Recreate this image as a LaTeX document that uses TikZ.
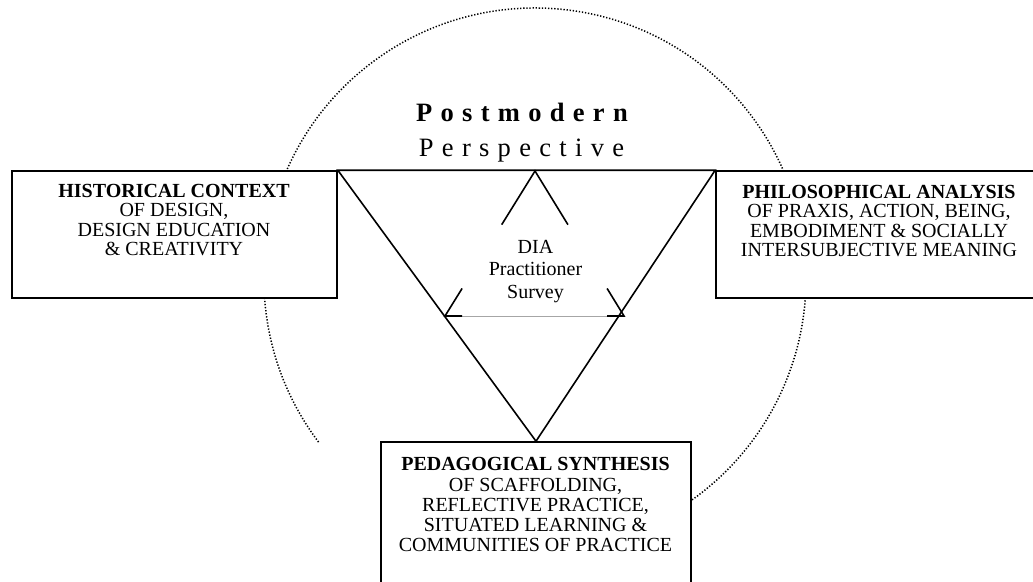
\documentclass[tikz,border=0pt]{standalone}
\usepackage{fontspec}
\setmainfont{Liberation Serif}
\usetikzlibrary{calc}

% letter-spaced words: a kern after every letter, the last one taken back
\newlength\lsp
\def\spaceout#1{\ifx#1\relax\else#1\kern\lsp\expandafter\spaceout\fi}
\newcommand\spreadword[2]{\setlength\lsp{#1}\spaceout#2\relax\kern-\lsp}

\tikzset{
  frame/.style={draw, line width=1.6pt, fill=white, inner sep=0pt},
  edge/.style={line width=1.6pt},
  ring/.style={line width=1.5pt, dash pattern=on 1.3pt off 1.8pt},
  base line/.style={line width=0.8pt, draw=black!35},
  boxtext/.style={align=center, inner sep=0pt, anchor=north,
    font=\fontsize{20}{19.4}\selectfont},
  innertext/.style={align=center, inner sep=0pt, anchor=north,
    font=\fontsize{20}{22.5}\selectfont},
  headtext/.style={inner sep=0pt, anchor=base, font=\fontsize{26.5}{30}\selectfont},
}

\begin{document}
\begin{tikzpicture}[x=1pt, y=-1pt]
\useasboundingbox (0,0) rectangle (1033,581);
\clip (0,0) rectangle (1033,581);

% dotted ring behind everything
\draw[ring] (535,279) ++(143:271) arc[start angle=143, end angle=420, radius=271];

% the three panels
\node[frame, minimum width=325pt, minimum height=127pt] (hist) at (174.5,234.5) {};
\node[frame, minimum width=326pt, minimum height=127pt] (phil) at (879,234.5) {};
\node[frame, minimum width=310pt, minimum height=178pt] (ped) at (536,531) {};

% large triangle joining the panels
\coordinate (tl) at (hist.north east);
\coordinate (tr) at (phil.north west);
\coordinate (tb) at (ped.north);
\draw[edge] (tl) -- (tb) -- (tr) -- cycle;

% inner triangle, drawn by its corners
\coordinate (sa) at (535,171);
\coordinate (sl) at (445,316);
\coordinate (sr) at (624,316);
\draw[base line] (sl) -- (sr);
\draw[edge] ($(sa)!0.37!(sl)$) -- (sa) -- ($(sa)!0.37!(sr)$);
\draw[edge] ($(sl)!0.19!(sa)$) -- (sl) -- ($(sl)!0.095!(sr)$);
\draw[edge] ($(sr)!0.19!(sa)$) -- (sr) -- ($(sr)!0.095!(sl)$);

% heading
\node[headtext] (pm) at (522,121) {\bfseries\spreadword{8.3pt}{Postmodern}};
\node[headtext] (pp) at (521.5,156) {\spreadword{8.3pt}{Perspective}};

% panel texts
\node[boxtext] (histtxt) at (174,184)
  {\textbf{HISTORICAL CONTEXT}\\OF DESIGN,\\DESIGN EDUCATION\\\& CREATIVITY};
\node[boxtext] (philtxt) at (879,185)
  {\textbf{PHILOSOPHICAL ANALYSIS}\\OF PRAXIS, ACTION, BEING,\\EMBODIMENT \& SOCIALLY\\INTERSUBJECTIVE MEANING};
\node[boxtext, font=\fontsize{20}{20.2}\selectfont] (pedtxt) at (535.5,457.5)
  {\textbf{PEDAGOGICAL SYNTHESIS}\\OF SCAFFOLDING,\\REFLECTIVE PRACTICE,\\SITUATED LEARNING \&\\COMMUNITIES OF PRACTICE};

% centre label
\node[innertext] (dia) at (535.5,239.7) {DIA\\Practitioner\\Survey};
\end{tikzpicture}
\end{document}
